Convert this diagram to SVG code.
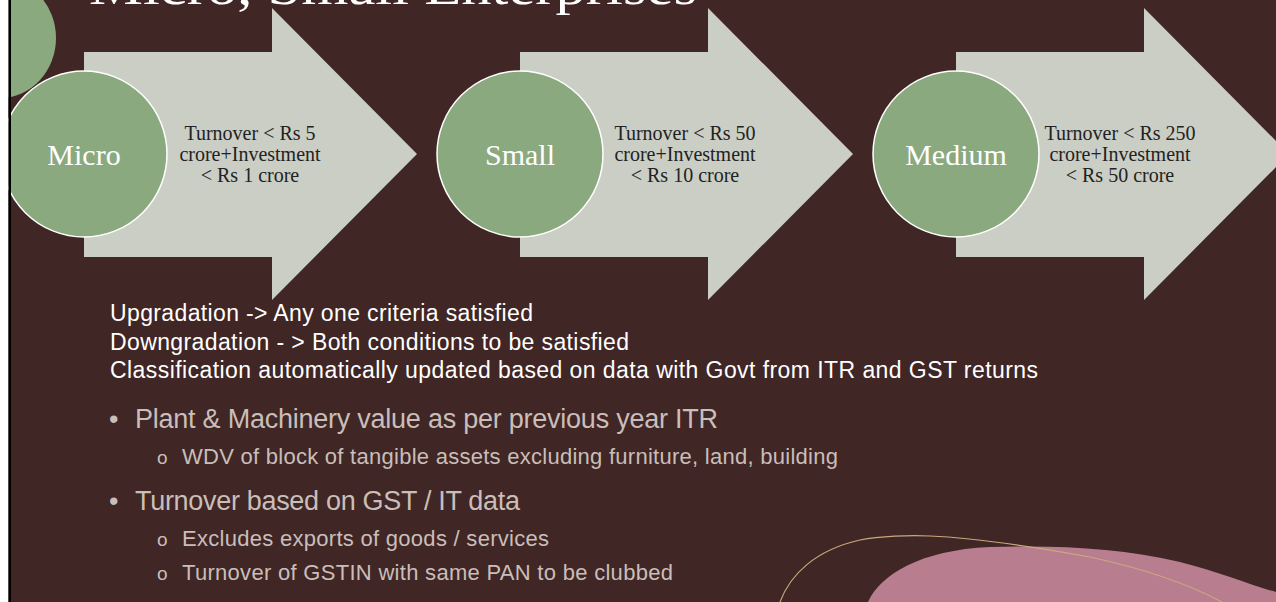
<svg xmlns="http://www.w3.org/2000/svg" width="1276" height="602" viewBox="0 0 1276 602">
<defs>
<style>
.bg{fill:#402624}
.arrow{fill:#CBCEC5}
.circ{fill:#8BA97F;stroke:#FFFFFF;stroke-width:1.5}
.clabel{font-family:"Liberation Serif","Times New Roman",serif;font-size:30px;fill:#FFFFFF;text-anchor:middle}
.alabel{font-family:"Liberation Serif","Times New Roman",serif;font-size:20px;fill:#222222;text-anchor:middle}
.title{font-family:"Liberation Serif","Times New Roman",serif;font-size:50px;fill:#FFFFFF}
.main{font-family:"Liberation Sans",Arial,sans-serif;font-size:23px;fill:#FFFFFF}
.l1{font-family:"Liberation Sans",Arial,sans-serif;font-size:27px;fill:#C9BEBA}
.l2{font-family:"Liberation Sans",Arial,sans-serif;font-size:22px;fill:#C9BEBA}
.sub{font-family:"Liberation Sans",Arial,sans-serif;font-size:19px;fill:#C9BEBA}
</style>
</defs>
<rect class="bg" x="0" y="0" width="1276" height="602"/>

<g id="decor-topleft">
<ellipse cx="0" cy="38" rx="56" ry="60" fill="#8BA97F"/>
</g>

<g id="title">
<text class="title" x="89" y="4" textLength="608" lengthAdjust="spacingAndGlyphs">Micro, Small Enterprises</text>
</g>

<g id="node-micro">
<polygon class="arrow" points="84,52 272,52 272,8 417,154 272,300 272,257 84,257"/>
<circle class="circ" cx="84" cy="154" r="83"/>
<text class="clabel" x="84" y="165">Micro</text>
<text class="alabel" x="250" y="139.5">Turnover &lt; Rs 5</text>
<text class="alabel" x="250" y="160.5">crore+Investment</text>
<text class="alabel" x="250" y="181.5">&lt; Rs 1 crore</text>
</g>

<g id="node-small">
<polygon class="arrow" points="520,52 708,52 708,8 853,154 708,300 708,257 520,257"/>
<circle class="circ" cx="520" cy="154" r="83"/>
<text class="clabel" x="520" y="165">Small</text>
<text class="alabel" x="685" y="139.5">Turnover &lt; Rs 50</text>
<text class="alabel" x="685" y="160.5">crore+Investment</text>
<text class="alabel" x="685" y="181.5">&lt; Rs 10 crore</text>
</g>

<g id="node-medium">
<polygon class="arrow" points="956,52 1144,52 1144,8 1289,154 1144,300 1144,257 956,257"/>
<circle class="circ" cx="956" cy="154" r="83"/>
<text class="clabel" x="956" y="165">Medium</text>
<text class="alabel" x="1120" y="139.5">Turnover &lt; Rs 250</text>
<text class="alabel" x="1120" y="160.5">crore+Investment</text>
<text class="alabel" x="1120" y="181.5">&lt; Rs 50 crore</text>
</g>

<g id="connectors"></g>

<g id="notes">
<text class="main" x="110" y="321" textLength="423">Upgradation -&gt; Any one criteria satisfied</text>
<text class="main" x="110" y="349.5" textLength="519">Downgradation - &gt; Both conditions to be satisfied</text>
<text class="main" x="110" y="378" textLength="928">Classification automatically updated based on data with Govt from ITR and GST returns</text>
</g>

<g id="bullets">
<text class="l1" x="109" y="428">•</text>
<text class="l1" x="135" y="428" textLength="583">Plant &amp; Machinery value as per previous year ITR</text>
<text class="sub" x="157" y="464">o</text>
<text class="l2" x="182" y="464" textLength="656">WDV of block of tangible assets excluding furniture, land, building</text>
<text class="l1" x="109" y="510">•</text>
<text class="l1" x="135" y="510" textLength="385">Turnover based on GST / IT data</text>
<text class="sub" x="157" y="546">o</text>
<text class="l2" x="182" y="546" textLength="367">Excludes exports of goods / services</text>
<text class="sub" x="157" y="580">o</text>
<text class="l2" x="182" y="580" textLength="491">Turnover of GSTIN with same PAN to be clubbed</text>
</g>

<g id="decor-bottomright">
<path d="M868 602 C880 575 920 550 990 547 C1060 545 1120 548 1180 562 C1220 572 1250 585 1276 592 L1276 602 Z" fill="#B87D8F"/>
<path d="M780 602 C790 575 815 550 860 540 C880 536 910 535 930 536 C980 538 1040 548 1090 557 C1150 570 1190 585 1222 602" fill="none" stroke="#C9A97E" stroke-width="1.2"/>
</g>

<g id="frame">
<rect x="0" y="0" width="8.5" height="602" fill="#FFFFFF"/>
<rect x="8.5" y="0" width="2.5" height="602" fill="#000000"/>
</g>
</svg>
